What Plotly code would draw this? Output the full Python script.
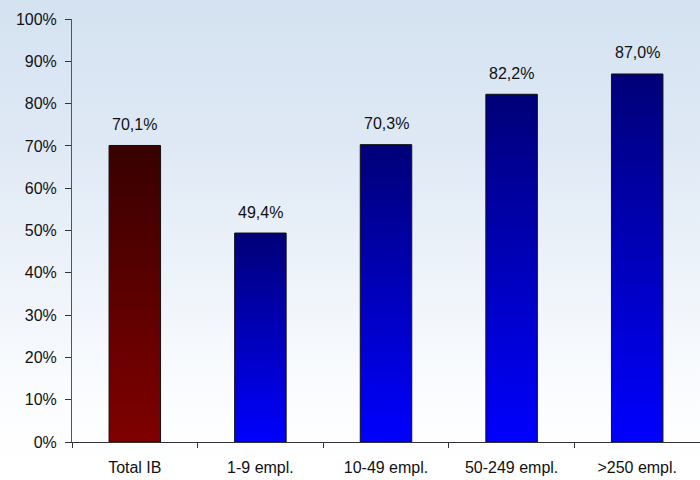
import base64
import plotly.graph_objects as go

categories = ["Total IB", "1-9 empl.", "10-49 empl.", "50-249 empl.", ">250 empl."]
values = [70.1, 49.4, 70.3, 82.2, 87.0]
value_labels = ["70,1%", "49,4%", "70,3%", "82,2%", "87,0%"]
y_ticks = [0, 10, 20, 30, 40, 50, 60, 70, 80, 90, 100]
y_tick_labels = [f"{t}%" for t in y_ticks]

bar_top_colors = ["#380000", "#000078", "#000078", "#000078", "#000078"]
bar_bottom_colors = ["#800000", "#0000ff", "#0000ff", "#0000ff", "#0000ff"]

W, H = 700, 480
L, R, T, B = 72, 0, 19, 38
BAR_W = 0.41
FONT = "Liberation Sans, Arial"

fig = go.Figure()

for i, (cat, v) in enumerate(zip(categories, values)):
    x0, x1 = i - BAR_W / 2, i + BAR_W / 2
    fig.add_trace(go.Scatter(
        x=[x0, x0, x1, x1, x0],
        y=[0, v, v, 0, 0],
        mode="lines",
        fill="toself",
        fillgradient=dict(type="vertical",
                          colorscale=[[0, bar_bottom_colors[i]], [1, bar_top_colors[i]]]),
        line=dict(color="#111111", width=1),
        hoverinfo="skip",
        showlegend=False,
        name=cat,
    ))
    fig.add_annotation(x=i, y=v, text=value_labels[i], showarrow=False,
                       yshift=21, font=dict(family=FONT, size=16, color="#111111"))

svg = f'''<svg xmlns="http://www.w3.org/2000/svg" width="{W}" height="{H}" preserveAspectRatio="none">
<defs><linearGradient id="g" x1="0" y1="0" x2="0" y2="1">
<stop offset="0" stop-color="#d4e2f1"/>
<stop offset="0.3" stop-color="#dfe9f5"/>
<stop offset="0.6" stop-color="#eff4fa"/>
<stop offset="0.85" stop-color="#fcfdff"/>
<stop offset="1" stop-color="#ffffff"/>
</linearGradient></defs>
<rect width="{W}" height="{H}" fill="url(#g)"/></svg>'''
src = "data:image/svg+xml;base64," + base64.b64encode(svg.encode()).decode()

pw, ph = W - L - R, H - T - B
fig.add_layout_image(dict(source=src, xref="paper", yref="paper",
                          x=-L / pw, y=1 + T / ph, sizex=W / pw, sizey=H / ph,
                          xanchor="left", yanchor="top", sizing="stretch", layer="below"))

fig.update_layout(
    width=W, height=H,
    margin=dict(l=L, r=R, t=T, b=B, autoexpand=False),
    paper_bgcolor="white",
    plot_bgcolor="rgba(0,0,0,0)",
    font=dict(family=FONT, size=16, color="#111111"),
    showlegend=False,
    xaxis=dict(range=[-0.5, 4.5], tickmode="array", tickvals=list(range(len(categories))),
               ticktext=categories, ticks="", showgrid=False, zeroline=False, automargin=False,
               showline=True, linecolor="#333333", linewidth=1, ticklabelstandoff=11,
               minor=dict(tickmode="array", tickvals=[k - 0.5 for k in range(len(categories) + 1)],
                          ticks="outside", ticklen=5, tickcolor="#333333", showgrid=False),
               fixedrange=True),
    yaxis=dict(range=[0, 100], tickmode="array", tickvals=y_ticks, ticktext=y_tick_labels,
               ticks="outside", ticklen=6, tickcolor="#333333", showgrid=False, zeroline=False,
               automargin=False,
               showline=True, linecolor="#555555", linewidth=1, ticklabelstandoff=5,
               fixedrange=True),
)

fig.write_html("out.html", config={"displayModeBar": False},
               post_script="document.body.style.margin='0px';")
